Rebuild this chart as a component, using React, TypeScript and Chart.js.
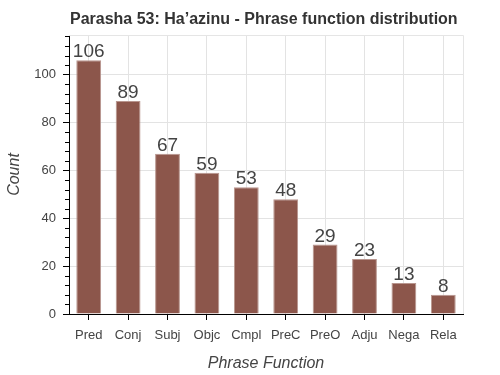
import React, { useEffect, useRef } from "react";
import { Chart, registerables } from "chart.js";

Chart.register(...registerables);

const categories = ["Pred", "Conj", "Subj", "Objc", "Cmpl", "PreC", "PreO", "Adju", "Nega", "Rela"];
const counts = [106, 89, 67, 59, 53, 48, 29, 23, 13, 8];
const yMajorTicks = [0, 20, 40, 60, 80, 100];
const yMax = 116.6;
const minorStep = 4;
const titleText = "Parasha 53: Ha\u2019azinu - Phrase function distribution";

const FONT = "Arial, 'Liberation Sans', Helvetica, sans-serif";

const overlayPlugin = {
  id: "overlay",
  beforeDatasetsDraw(chart: any) {
    const { ctx, chartArea } = chart;
    ctx.save();
    ctx.strokeStyle = "#e5e5e5";
    ctx.lineWidth = 1;
    ctx.beginPath();
    ctx.moveTo(chartArea.left, Math.round(chartArea.top) + 0.5);
    ctx.lineTo(Math.round(chartArea.right) + 0.5, Math.round(chartArea.top) + 0.5);
    ctx.lineTo(Math.round(chartArea.right) + 0.5, chartArea.bottom);
    ctx.stroke();
    ctx.restore();
  },
  afterDraw(chart: any) {
    const { ctx, chartArea } = chart;
    const y = chart.scales.y;
    ctx.save();
    ctx.strokeStyle = "#000";
    ctx.lineWidth = 1;
    ctx.beginPath();
    for (let v = 0; v <= yMax; v += minorStep) {
      if (yMajorTicks.includes(v)) continue;
      const py = Math.round(y.getPixelForValue(v)) + 0.5;
      ctx.moveTo(chartArea.left - 4, py);
      ctx.lineTo(chartArea.left, py);
    }
    ctx.stroke();
    ctx.fillStyle = "#333";
    ctx.font = `bold 16px ${FONT}`;
    ctx.textAlign = "left";
    ctx.textBaseline = "alphabetic";
    ctx.fillText(titleText, chartArea.left + 1, 24);
    const meta = chart.getDatasetMeta(0);
    ctx.fillStyle = "#444";
    ctx.font = `19px ${FONT}`;
    ctx.textAlign = "center";
    meta.data.forEach((bar: any, i: number) => {
      ctx.fillText(String(counts[i]), bar.x, bar.y - 3);
    });
    ctx.restore();
  },
};

export default function App() {
  const ref = useRef<HTMLCanvasElement | null>(null);
  useEffect(() => {
    if (!ref.current) return;
    const chart = new Chart(ref.current, {
      type: "bar",
      data: {
        labels: categories,
        datasets: [
          {
            data: counts,
            backgroundColor: "#8c564b",
            borderColor: "#b8958e",
            borderWidth: 1,
            barPercentage: 0.63,
            categoryPercentage: 1,
          },
        ],
      },
      options: {
        responsive: false,
        animation: false,
        devicePixelRatio: 1,
        layout: { padding: { top: 35, right: 37, left: 0, bottom: 0 } },
        plugins: { legend: { display: false }, tooltip: { enabled: false }, title: { display: false } },
        scales: {
          x: {
            type: "category",
            grid: {
              offset: false,
              color: "#e3e3e3",
              tickColor: "#000",
              tickLength: 6,
              drawOnChartArea: true,
            },
            border: { color: "#000", width: 1 },
            ticks: { color: "#444", font: { family: FONT, size: 13 }, padding: 8, maxRotation: 0 },
            title: {
              display: true,
              text: "Phrase Function",
              color: "#444",
              font: { family: FONT, size: 16, style: "italic" },
              padding: { top: 0, bottom: 2 },
            },
            afterFit(scale: any) {
              scale.height = 61;
            },
          },
          y: {
            min: 0,
            max: yMax,
            grid: { color: "#e3e3e3", tickColor: "#000", tickLength: 6 },
            border: { color: "#000", width: 1 },
            ticks: { color: "#444", font: { family: FONT, size: 13 }, padding: 7, includeBounds: false },
            afterBuildTicks(scale: any) {
              scale.ticks = yMajorTicks.map((v) => ({ value: v }));
            },
            title: {
              display: true,
              text: "Count",
              color: "#444",
              font: { family: FONT, size: 16, style: "italic" },
              padding: { top: 5, bottom: 0 },
            },
            afterFit(scale: any) {
              scale.width = 69;
            },
          },
        },
      } as any,
      plugins: [overlayPlugin],
    });
    return () => chart.destroy();
  }, []);
  return (
    <div style={{ position: "absolute", left: 0, top: 0, width: 500, height: 375, background: "#fff" }}>
      <canvas ref={ref} width={500} height={375} />
    </div>
  );
}
